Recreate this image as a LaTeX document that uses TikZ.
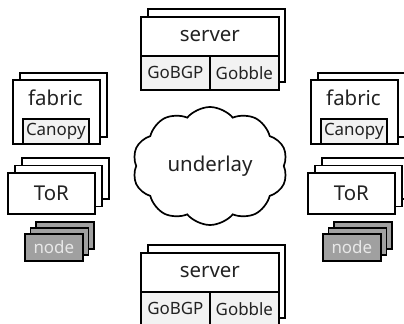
\documentclass[tikz,border=0pt]{standalone}
\usepackage{fontspec}
\setmainfont{Noto Sans}
\usetikzlibrary{shapes.symbols}
\definecolor{ink}{HTML}{222222}
\definecolor{subfill}{HTML}{F2F2F2}
\definecolor{nodefill}{HTML}{A0A0A0}
\definecolor{nodetext}{HTML}{E8E8E8}
\tikzset{
  box/.style={draw=black, fill=white, line width=1.7bp, rectangle, inner sep=0pt,
              anchor=north west, text=ink},
  subbox/.style={box, fill=subfill},
  hostbox/.style={box, fill=nodefill, text=nodetext},
  big/.style={font=\fontsize{20.5}{24}\selectfont},
  small/.style={font=\fontsize{17}{20}\selectfont},
}
\begin{document}
\begin{tikzpicture}[x=1bp,y=-1bp]
\useasboundingbox (0,0) rectangle (404,324);

% ---- servers (top and bottom) ----
\foreach \sy/\nm in {16/top, 252/bot}{
  \node[box, minimum width=137bp, minimum height=73bp] (\nm back) at (147,\sy-8) {};
  \node[box, big, minimum width=138bp, minimum height=39bp] (\nm srv) at (140,\sy) {server};
  \node[subbox, small, minimum width=69bp, minimum height=34bp] (\nm gobgp) at (140,\sy+39) {GoBGP};
  \node[subbox, small, minimum width=69bp, minimum height=34bp] (\nm gobble) at (209,\sy+39) {Gobble};
}

% ---- fabric switches ----
\foreach \fx/\nm in {12/lf, 310/rf}{
  \node[box, minimum width=87bp, minimum height=64bp] (\nm back) at (\fx+7,72) {};
  \node[box, minimum width=87bp, minimum height=64bp] (\nm front) at (\fx,79) {};
  \node[big, text=ink, inner sep=0pt] (\nm label) at (\fx+43.5,98) {fabric};
  \node[subbox, small, minimum width=66bp, minimum height=25bp] (\nm canopy) at (\fx+10,118) {Canopy};
}

% ---- top-of-rack switches ----
\foreach \tx/\nm in {7/lt, 307/rt}{
  \node[box, minimum width=87bp, minimum height=41bp] (\nm c) at (\tx+14,157) {};
  \node[box, minimum width=87bp, minimum height=41bp] (\nm b) at (\tx+7,164.5) {};
  \node[box, big, minimum width=87bp, minimum height=41bp] (\nm a) at (\tx,172) {ToR};
}

% ---- hosts ----
\foreach \hx/\nm in {24/lh, 322/rh}{
  \node[hostbox, minimum width=58bp, minimum height=27bp] (\nm c) at (\hx+11,221) {};
  \node[hostbox, minimum width=58bp, minimum height=27bp] (\nm b) at (\hx+5.5,227) {};
  \node[hostbox, small, minimum width=58bp, minimum height=27bp] (\nm a) at (\hx,233) {node};
}

% ---- underlay network ----
\node[cloud, draw=black, fill=white, line width=1.7bp, cloud puffs=10,
      cloud puff arc=100, aspect=1.3, minimum width=155bp, minimum height=118bp,
      inner sep=0pt, text=ink, big] (underlay) at (210,166) {underlay};
\end{tikzpicture}
\end{document}
